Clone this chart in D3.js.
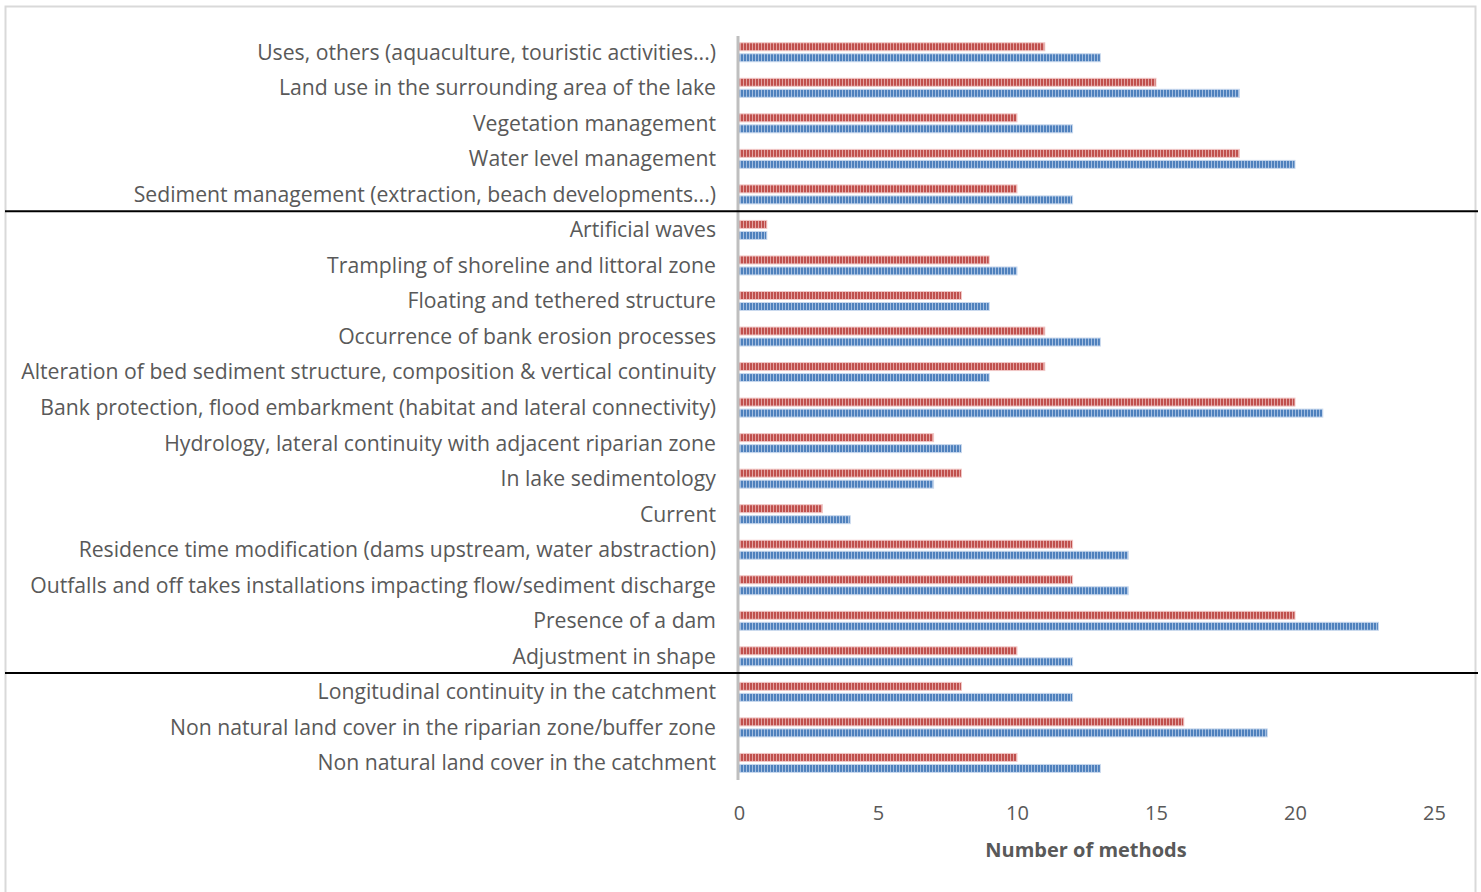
<!DOCTYPE html>
<html>
<head>
<meta charset="utf-8">
<script src="https://cdn.jsdelivr.net/npm/d3@7"></script>
<style>
  body { margin: 0; background: #fff; }
  text { font-family: "Open Sans", sans-serif; }
</style>
</head>
<body>
<div id="container"></div>
<script>
const WIDTH = 1481,
      HEIGHT = 892;

// categories, top to bottom
const categories = [
  "Uses, others (aquaculture, touristic activities...)",
  "Land use in the surrounding area of the lake",
  "Vegetation management",
  "Water level management",
  "Sediment management (extraction, beach developments...)",
  "Artificial waves",
  "Trampling of shoreline and littoral zone",
  "Floating and tethered structure ",
  "Occurrence of bank erosion processes",
  "Alteration of bed sediment structure, composition & vertical continuity",
  "Bank protection, flood embarkment (habitat and lateral connectivity)",
  "Hydrology, lateral continuity with adjacent riparian zone",
  "In lake sedimentology",
  "Current ",
  "Residence time modification (dams upstream, water abstraction)",
  "Outfalls and off takes installations impacting flow/sediment discharge",
  "Presence of a dam",
  "Adjustment in shape",
  "Longitudinal continuity in the catchment",
  "Non natural land cover in the riparian zone/buffer zone",
  "Non natural land cover in the catchment"
];

const redValues  = [11, 15, 10, 18, 10, 1, 9, 8, 11, 11, 20, 7, 8, 3, 12, 12, 20, 10, 8, 16, 10];
const blueValues = [13, 18, 12, 20, 12, 1, 10, 9, 13, 9, 21, 8, 7, 4, 14, 14, 23, 12, 12, 19, 13];

const xTicks = [0, 5, 10, 15, 20, 25];
// group separators sit above these categories
const groupStarts = ["Artificial waves", "Longitudinal continuity in the catchment"];

const data = categories.map((c, i) => ({ cat: c, red: redValues[i], blue: blueValues[i] }));

const svg = d3.select("#container").append("svg")
    .attr("width", WIDTH).attr("height", HEIGHT);

const defs = svg.append("defs");
const stripe = (id, dark, light) => {
  const p = defs.append("pattern")
      .attr("id", id)
      .attr("patternUnits", "userSpaceOnUse")
      .attr("width", 3).attr("height", 10);
  p.append("rect").attr("width", 3).attr("height", 10).attr("fill", dark);
  p.append("rect").attr("x", 2).attr("width", 1).attr("height", 10).attr("fill", light);
};
stripe("redStripe", "#c0504d", "#e2a3a1");
stripe("blueStripe", "#4f81bd", "#a3bee0");

// outer frame
svg.append("rect")
    .attr("x", 5.5).attr("y", 6.5)
    .attr("width", 1470).attr("height", 890)
    .attr("fill", "none")
    .attr("stroke", "#d9d9d9")
    .attr("stroke-width", 2);

const xScale = d3.scaleLinear().domain([0, 25]).range([739, 1434]);

const yScale = d3.scaleBand()
    .domain(categories)
    .range([34.5, 780.7])
    .padding(0);

const inner = d3.scaleBand()
    .domain(["red", "blue"])
    .range([yScale.bandwidth() / 2 - 9.5, yScale.bandwidth() / 2 + 9.5])
    .paddingInner(0.2727);

const colors = {
  red: { fill: "url(#redStripe)", halo: "#f2c9c8" },
  blue: { fill: "url(#blueStripe)", halo: "#c9d9ee" }
};

const rows = svg.append("g").selectAll("g")
    .data(data)
    .join("g")
    .attr("transform", d => `translate(0, ${yScale(d.cat)})`);

["red", "blue"].forEach(key => {
  rows.append("rect")
      .attr("x", xScale(0))
      .attr("y", inner(key))
      .attr("width", d => xScale(d[key]) - xScale(0))
      .attr("height", inner.bandwidth())
      .attr("fill", colors[key].fill)
      .attr("stroke", colors[key].halo)
      .attr("stroke-width", 1);
});

// category labels
svg.append("g").selectAll("text")
    .data(categories)
    .join("text")
    .attr("x", 716)
    .attr("y", d => yScale(d) + yScale.bandwidth() / 2)
    .attr("dy", "0.35em")
    .attr("text-anchor", "end")
    .attr("fill", "#595959")
    .style("font-size", "21.2px")
    .text(d => d);

// vertical axis line
svg.append("line")
    .attr("x1", 738).attr("x2", 738)
    .attr("y1", 36).attr("y2", 780)
    .attr("stroke", "#bfbfbf")
    .attr("stroke-width", 3);

// group separators
svg.append("g").selectAll("line")
    .data(groupStarts)
    .join("line")
    .attr("x1", 5).attr("x2", 1478)
    .attr("y1", d => yScale(d) - 1)
    .attr("y2", d => yScale(d) - 1)
    .attr("stroke", "#000")
    .attr("stroke-width", 2);

// x axis tick labels
const xAxis = d3.axisBottom(xScale).tickValues(xTicks).tickSize(0).tickPadding(0);
const axisG = svg.append("g")
    .attr("transform", "translate(0, 806)")
    .call(xAxis);
axisG.select(".domain").remove();
axisG.selectAll("text")
    .attr("fill", "#595959")
    .style("font-size", "20px")
    .style("font-family", "\"Open Sans\", sans-serif");

svg.append("text")
    .attr("x", 1086)
    .attr("y", 850)
    .attr("dy", "0.35em")
    .attr("text-anchor", "middle")
    .attr("fill", "#595959")
    .style("font-size", "20px")
    .style("font-weight", "bold")
    .text("Number of methods");
</script>
</body>
</html>
